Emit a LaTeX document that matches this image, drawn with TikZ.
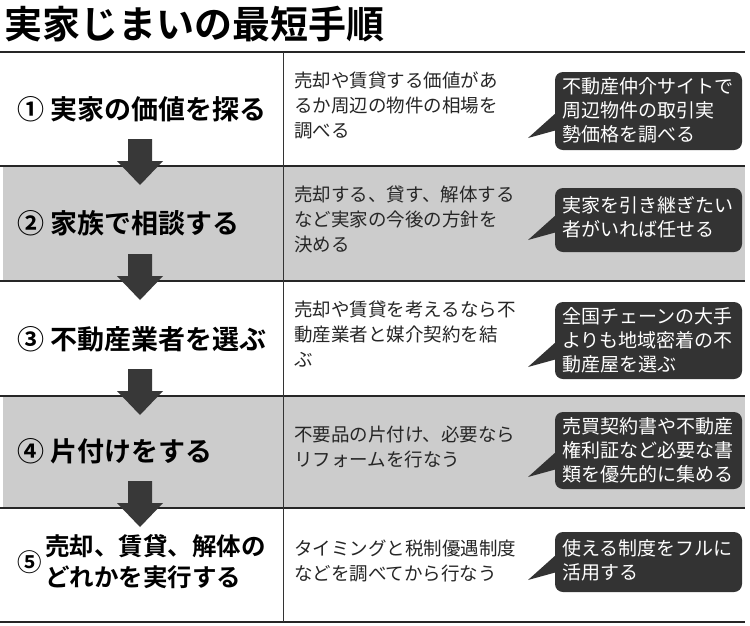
\documentclass[tikz,border=0pt]{standalone}
\usepackage{fontspec}
\setmainfont{Noto Sans CJK JP}
\newfontfamily\jpb{Noto Sans CJK JP Bold}
\begin{document}
\begin{tikzpicture}[x=1pt,y=-1pt,
  rowline/.style={line width=2pt,black!85},
  stepname/.style={anchor=west,font=\jpb\fontsize{27}{30}\selectfont,align=left},
  desc/.style={anchor=north west,font=\fontsize{18.5}{25}\selectfont,align=left,text=black!85,inner sep=0pt},
  callout/.style={fill=black!80,rounded corners=8pt},
  ctext/.style={anchor=north west,text=white,font=\fontsize{19}{24}\selectfont,align=left,inner sep=0pt},
  bigarrow/.style={fill=black!78}]
\useasboundingbox (0,0) rectangle (750,625);
\fill[white] (0,0) rectangle (750,625);
\node[anchor=west,font=\jpb\fontsize{38}{40}\selectfont,inner sep=0pt] (title) at (4,24) {実家じまいの最短手順};
\fill[black!20] (3,166) rectangle (745,281);
\fill[black!20] (3,396) rectangle (745,508);
\foreach \y in {52,166,281,396,508,622} \draw[rowline] (0,\y) -- (745,\y);
\draw[black!80,line width=0.8pt] (283,52) -- (283,622);
% arrows
\foreach \b in {166,281,396,508}
  \fill[bigarrow] (128,\b-27) -- (152,\b-27) -- (152,\b-5) -- (163,\b-5) -- (140,\b+19) -- (117,\b-5) -- (128,\b-5) -- cycle;
% left titles
\node[stepname] (s1) at (14,109) {① 実家の価値を探る};
\node[stepname] (s2) at (14,223) {② 家族で相談する};
\node[stepname] (s3) at (14,339) {③ 不動産業者を選ぶ};
\node[stepname] (s4) at (14,451) {④ 片付けをする};
\node[stepname,font=\jpb\fontsize{24.5}{31}\selectfont] (s5) at (14,565) {⑤\hspace{3pt}\begin{tabular}[c]{@{}l@{}}売却、賃貸、解体の\\どれかを実行する\end{tabular}};
% descriptions
\node[desc] (d1) at (294,72) {売却や賃貸する価値があ\\るか周辺の物件の相場を\\調べる};
\node[desc] (d2) at (294,186) {売却する、貸す、解体する\\など実家の今後の方針を\\決める};
\node[desc] (d3) at (294,301) {売却や賃貸を考えるなら不\\動産業者と媒介契約を結\\ぶ};
\node[desc] (d4) at (294,426) {不要品の片付け、必要なら\\リフォームを行なう};
\node[desc] (d5) at (294,540) {タイミングと税制優遇制度\\などを調べてから行なう};
% callouts
\foreach \t/\bt in {72/150,188/252,302/379,412/489,532/592}{
  \fill[callout] (555,\t) rectangle (742,\bt);
  \fill[black!80] (557,\bt-38) -- (528,\bt-12) -- (557,\bt-20) -- cycle;
}
\node[ctext] (c1) at (562,77) {不動産仲介サイトで\\周辺物件の取引実\\勢価格を調べる};
\node[ctext] (c2) at (562,196) {実家を引き継ぎたい\\者がいれば任せる};
\node[ctext] (c3) at (562,307) {全国チェーンの大手\\よりも地域密着の不\\動産屋を選ぶ};
\node[ctext] (c4) at (562,417) {売買契約書や不動産\\権利証など必要な書\\類を優先的に集める};
\node[ctext] (c5) at (562,539) {使える制度をフルに\\活用する};
\end{tikzpicture}
\end{document}
